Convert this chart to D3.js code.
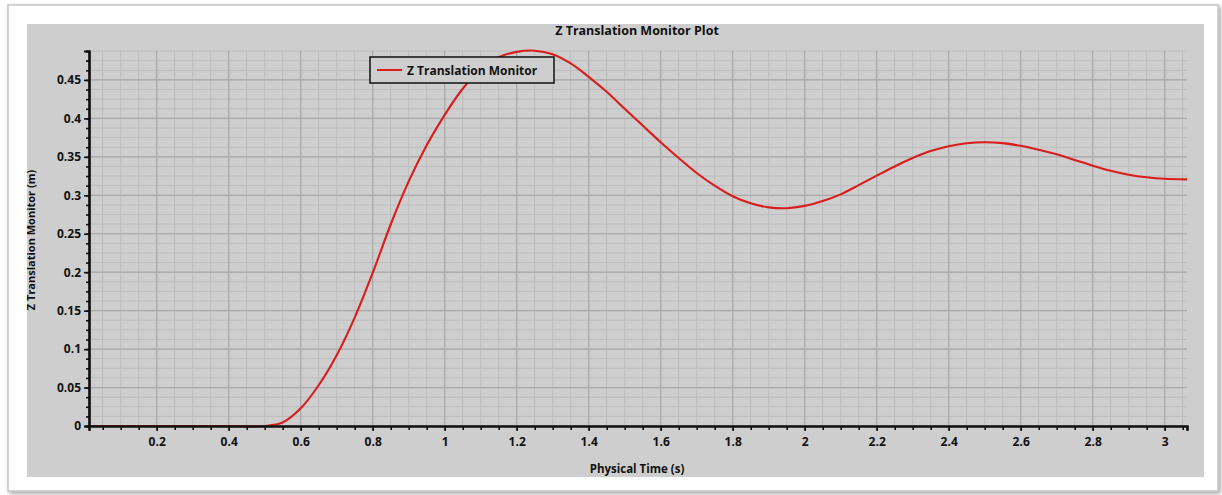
<!DOCTYPE html>
<html>
<head>
<meta charset="utf-8">
<script src="https://cdn.jsdelivr.net/npm/d3@7"></script>
<style>
  html, body { margin: 0; padding: 0; background: #ffffff; }
  svg { display: block; }
  text { font-family: "Open Sans", "DejaVu Sans", sans-serif; font-weight: 700; fill: #111; }
</style>
</head>
<body>
<svg id="chart" width="1222" height="495"></svg>
<script>
// Physical time (s) and monitored Z translation (m)
const time = [0.0125, 0.1, 0.2, 0.3, 0.4, 0.5, 0.55, 0.6, 0.65, 0.7, 0.75, 0.8, 0.85, 0.9, 0.95,
  1.0, 1.05, 1.1, 1.15, 1.2, 1.25, 1.3, 1.35, 1.4, 1.45, 1.5, 1.55, 1.6, 1.65, 1.7, 1.75,
  1.8, 1.85, 1.9, 1.95, 2.0, 2.05, 2.1, 2.15, 2.2, 2.25, 2.3, 2.35, 2.4, 2.45, 2.5, 2.55,
  2.6, 2.65, 2.7, 2.75, 2.8, 2.85, 2.9, 2.95, 3.0, 3.0625];
const zTranslation = [0, 0, 0, 0, 0, 0, 0.0045, 0.023, 0.053, 0.092, 0.141, 0.199, 0.262, 0.318, 0.365,
  0.4045, 0.4385, 0.4635, 0.4795, 0.4865, 0.488, 0.4835, 0.4715, 0.454, 0.4345, 0.4125, 0.3907, 0.369, 0.3485, 0.329, 0.3125,
  0.2987, 0.2895, 0.2843, 0.2832, 0.2862, 0.2925, 0.3012, 0.3132, 0.3255, 0.3375, 0.3485, 0.3575, 0.3638, 0.3677, 0.369, 0.3678,
  0.3643, 0.3592, 0.3532, 0.346, 0.3385, 0.3318, 0.3268, 0.3234, 0.3214, 0.3207];

const xTickValues = [0.2, 0.4, 0.6, 0.8, 1, 1.2, 1.4, 1.6, 1.8, 2, 2.2, 2.4, 2.6, 2.8, 3];
const yTickValues = [0, 0.05, 0.1, 0.15, 0.2, 0.25, 0.3, 0.35, 0.4, 0.45];

const titleText = "Z Translation Monitor Plot";
const xTitle = "Physical Time (s)";
const yTitle = "Z Translation Monitor (m)";
const seriesName = "Z Translation Monitor";

const svg = d3.select("#chart");

// outer frame with soft shadow
const defs = svg.append("defs");
const shadow = defs.append("filter").attr("id", "shadow").attr("x", "-5%").attr("y", "-5%").attr("width", "110%").attr("height", "110%");
shadow.append("feDropShadow").attr("dx", 2).attr("dy", 2).attr("stdDeviation", 2).attr("flood-color", "#000").attr("flood-opacity", 0.35);

svg.append("rect").attr("x", 8).attr("y", 5).attr("width", 1210).attr("height", 486)
  .attr("fill", "#ffffff").attr("stroke", "#c4c4c4").attr("stroke-width", 1.5)
  .attr("filter", "url(#shadow)");

// grey plot panel
svg.append("rect").attr("x", 27).attr("y", 24).attr("width", 1177).attr("height", 453)
  .attr("fill", "#cecece");

const plotLeft = 89, plotRight = 1187, plotTop = 51, plotBottom = 426;
const x = d3.scaleLinear().domain([0.012, 3.062]).range([plotLeft, plotRight]);
const y = d3.scaleLinear().domain([0, 0.4876]).range([plotBottom, plotTop]);

const xMinor = d3.range(0.05, 3.0625, 0.05);
const yMinor = d3.range(0, 0.4876, 0.0125);

const grid = svg.append("g");
grid.selectAll(".vminor").data(xMinor).join("line")
  .attr("x1", d => x(d)).attr("x2", d => x(d)).attr("y1", plotTop).attr("y2", plotBottom)
  .attr("stroke", "#bdbdbd").attr("stroke-width", 1);
grid.selectAll(".hminor").data(yMinor).join("line")
  .attr("x1", plotLeft).attr("x2", plotRight).attr("y1", d => y(d)).attr("y2", d => y(d))
  .attr("stroke", "#bdbdbd").attr("stroke-width", 1);
grid.selectAll(".vmajor").data(xTickValues).join("line")
  .attr("x1", d => x(d)).attr("x2", d => x(d)).attr("y1", plotTop).attr("y2", plotBottom)
  .attr("stroke", "#a9a9a9").attr("stroke-width", 1.2);
grid.selectAll(".hmajor").data(yTickValues).join("line")
  .attr("x1", plotLeft).attr("x2", plotRight).attr("y1", d => y(d)).attr("y2", d => y(d))
  .attr("stroke", "#a9a9a9").attr("stroke-width", 1.2);

// data line
const line = d3.line().x((d, i) => x(time[i])).y(d => y(d)).curve(d3.curveCatmullRom.alpha(0.5));
svg.append("path").datum(zTranslation)
  .attr("d", line).attr("fill", "none").attr("stroke", "#d91c1c").attr("stroke-width", 2.1);

// axes
const fmt = d => d3.format("~g")(d);
const styleAxis = g => {
  g.select(".domain").attr("stroke", "#111").attr("stroke-width", 2.2);
  g.selectAll(".tick line").attr("stroke", "#111").attr("stroke-width", 1.6);
  g.selectAll("text").attr("font-size", 12).attr("font-family", "'Open Sans', sans-serif").attr("font-weight", 700).attr("fill", "#111");
};
const xAxis = svg.append("g").attr("transform", `translate(0,${plotBottom})`);
xAxis.call(d3.axisBottom(x).tickValues(xMinor).tickSize(4).tickFormat(""));
const xAxisMaj = svg.append("g").attr("transform", `translate(0,${plotBottom})`);
xAxisMaj.call(d3.axisBottom(x).tickValues(xTickValues).tickSize(5).tickPadding(6).tickFormat(fmt));
[xAxis, xAxisMaj].forEach(styleAxis);

const yAxis = svg.append("g").attr("transform", `translate(${plotLeft},0)`);
yAxis.call(d3.axisLeft(y).tickValues(yMinor.concat([0.475])).tickSize(3).tickFormat(""));
const yAxisMaj = svg.append("g").attr("transform", `translate(${plotLeft},0)`);
yAxisMaj.call(d3.axisLeft(y).tickValues(yTickValues).tickSize(5).tickPadding(3).tickFormat(fmt));
[yAxis, yAxisMaj].forEach(styleAxis);

// titles
svg.append("text").attr("x", 637).attr("y", 35).attr("text-anchor", "middle")
  .attr("font-size", 12.5).text(titleText);
svg.append("text").attr("x", 637).attr("y", 473).attr("text-anchor", "middle")
  .attr("font-size", 11.5).text(xTitle);
svg.append("text").attr("transform", "translate(35,240) rotate(-90)").attr("text-anchor", "middle")
  .attr("font-size", 11).text(yTitle);

// legend
const legend = svg.append("g").attr("transform", "translate(370,57)");
legend.append("rect").attr("width", 184).attr("height", 26)
  .attr("fill", "#cecece").attr("stroke", "#111").attr("stroke-width", 1.5);
legend.append("line").attr("x1", 7).attr("x2", 32).attr("y1", 13).attr("y2", 13)
  .attr("stroke", "#d91c1c").attr("stroke-width", 2);
legend.append("text").attr("x", 37).attr("y", 17.5).attr("font-size", 12).text(seriesName);
</script>
</body>
</html>
